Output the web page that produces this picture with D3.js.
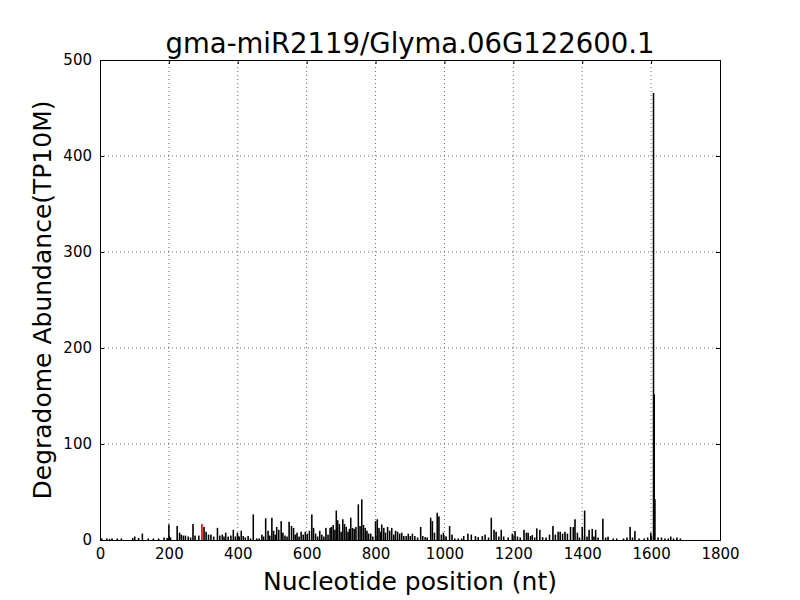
<!DOCTYPE html>
<html>
<head>
<meta charset="utf-8">
<script src="https://cdn.jsdelivr.net/npm/d3@7"></script>
<style>
  body { margin: 0; background: #fff; }
  svg { display: block; font-family: "DejaVu Sans", sans-serif; }
</style>
</head>
<body>
<svg id="chart" width="800" height="600"></svg>
<script>
const titleText = "gma-miR2119/Glyma.06G122600.1";
const xLabel = "Nucleotide position (nt)";
const yLabel = "Degradome Abundance(TP10M)";
const xTicks = [0, 200, 400, 600, 800, 1000, 1200, 1400, 1600, 1800];
const yTicks = [0, 100, 200, 300, 400, 500];

// black bars: positions (nt) and abundances
const positions = [5,20,28,35,50,62,95,101,112,123,140,155,170,186,195,
  200,205,224,231,236,242,248,256,263,270,276,287,
  302,308,315,322,330,341,348,355,360,365,372,380,387,393,399,404,410,416,422,430,437,445,
  455,462,470,475,481,488,493,499,504,509,513,519,526,531,537,543,549,556,562,567,572,578,584,590,596,602,608,615,620,626,632,638,644,650,656,662,668,672,677,682,686,690,695,700,705,710,715,720,724,728,733,738,743,750,755,760,765,770,775,780,786,792,800,805,810,815,818,824,829,835,841,847,853,858,864,870,876,882,889,895,901,907,914,922,931,937,944,950,960,965,971,979,984,991,997,1005,1015,1022,1030,1040,1050,1056,1068,1078,1090,1098,1110,1118,1128,1136,1144,1150,1158,1165,1172,1185,1197,1205,1212,1220,1231,1238,1243,1250,1255,1262,1268,1277,1285,1295,1305,1315,1322,1330,1336,1343,1350,1357,1366,1374,1379,1386,1392,1400,1407,1414,1420,1429,1434,1439,1446,1460,1468,1475,1490,1500,1520,1530,1539,1546,1553,1565,1580,1590,1599,1607,1609,1611,1620,1630,1640,1650,1657,1665,1675,1685];
const abundances = [1,1,0.5,1,1,1,1.5,3,1.5,6,1,1,1,2,1.5,
  15.6,2,14,7,5,4,4,3,2,16,4,4,
  13,8,5,5,3,12,4,5,3,7,3,4,10,3,7,3,9,3.5,2,3.5,1,26,
  1,1,5,3,22,9,4,22.6,9,5,13,10,19,7,4,3,18.4,14,12,5,7,3,8,5,8,6,9,26,12,6,3,9,5,3,12,5,12,13,15,10,30,20,16,8,21,16,13,8,11,22.6,12,11,13,36.5,14,41.7,15,12,9,6,6,3,19,21,12,8,15.6,12,7,13,9,12,5,9,8,6,7,3.5,3.5,6,3.5,6,3.5,2,13,3.5,2.4,2,22.6,19,7,27.8,24,5,7,3,13.9,5,1,1,1,3.5,6,5,3.5,2.4,3.5,5,2,22.6,10,8,3,10,3,2,6,8.7,3,2,10,7,7,3.5,4.5,2,11.5,10,2.4,2,5,14,5,8,8,6,8,6,13,12.8,21,7,2,13,30,3,10,11,3,10,2,21.5,2,2.8,1,1,1,2,13,2,8.7,1,1,2,7,465,151,42,2,2,1,1,3,1,2,1];
// highlighted (red) cleavage site
const redPositions = [296];
const redAbundances = [16];

const W = 800, H = 600;
const m = {left: 100, right: 80, top: 60, bottom: 60};
const svg = d3.select("#chart");

const x = d3.scaleLinear().domain([0, 1800]).range([m.left, W - m.right]);
const y = d3.scaleLinear().domain([0, 500]).range([H - m.bottom, m.top]);

// grid
const g = svg.append("g");
g.selectAll(".vg").data(xTicks.slice(1, -1)).enter().append("line")
  .attr("x1", d => x(d)).attr("x2", d => x(d))
  .attr("y1", y(0)).attr("y2", y(500))
  .attr("stroke", "#000").attr("stroke-width", 0.6).attr("stroke-dasharray", "1,3");
g.selectAll(".hg").data(yTicks.slice(1, -1)).enter().append("line")
  .attr("y1", d => y(d)).attr("y2", d => y(d))
  .attr("x1", x(0)).attr("x2", x(1800))
  .attr("stroke", "#000").attr("stroke-width", 0.6).attr("stroke-dasharray", "1,3");

// bars
const bw = x(1) - x(0);
const data = positions.map((p, i) => ({p, v: abundances[i]}));
svg.append("g").selectAll("rect").data(data).enter().append("rect")
  .attr("x", d => x(d.p) - bw / 2)
  .attr("width", bw)
  .attr("y", d => y(d.v))
  .attr("height", d => y(0) - y(d.v))
  .attr("fill", "#000").attr("stroke", "#000").attr("stroke-width", 1.2);
const rdata = redPositions.map((p, i) => ({p, v: redAbundances[i]}));
svg.append("g").selectAll("rect").data(rdata).enter().append("rect")
  .attr("x", d => x(d.p) - bw / 2)
  .attr("width", bw)
  .attr("y", d => y(d.v))
  .attr("height", d => y(0) - y(d.v))
  .attr("fill", "#ff0000").attr("stroke", "#ff0000").attr("stroke-width", 1.3);

// axes (inward ticks on all sides)
const tickSize = 4;
const xAxis = svg.append("g").attr("transform", `translate(0,${y(0)})`)
  .call(d3.axisBottom(x).tickValues(xTicks).tickSize(-tickSize).tickPadding(8).tickFormat(d3.format("d")));
const xAxisTop = svg.append("g").attr("transform", `translate(0,${y(500)})`)
  .call(d3.axisTop(x).tickValues(xTicks).tickSize(-tickSize).tickFormat(""));
const yAxis = svg.append("g").attr("transform", `translate(${x(0)},0)`)
  .call(d3.axisLeft(y).tickValues(yTicks).tickSize(-tickSize).tickPadding(8).tickFormat(d3.format("d")));
const yAxisR = svg.append("g").attr("transform", `translate(${x(1800)},0)`)
  .call(d3.axisRight(y).tickValues(yTicks).tickSize(-tickSize).tickFormat(""));
[xAxis, xAxisTop, yAxis, yAxisR].forEach(a => {
  a.select(".domain").attr("stroke", "#000").attr("stroke-width", 1);
  a.selectAll(".tick line").attr("stroke", "#000").attr("stroke-width", 1);
  a.selectAll("text").attr("font-family", "DejaVu Sans").attr("font-size", 15).attr("fill", "#000");
});

svg.append("text").attr("x", (x(0) + x(1800)) / 2).attr("y", 53)
  .attr("text-anchor", "middle").attr("font-size", 27.5).text(titleText);
svg.append("text").attr("x", (x(0) + x(1800)) / 2).attr("y", 590)
  .attr("text-anchor", "middle").attr("font-size", 25).text(xLabel);
svg.append("text").attr("transform", `translate(51,${(y(0) + y(500)) / 2}) rotate(-90)`)
  .attr("text-anchor", "middle").attr("font-size", 25).text(yLabel);
</script>
</body>
</html>
